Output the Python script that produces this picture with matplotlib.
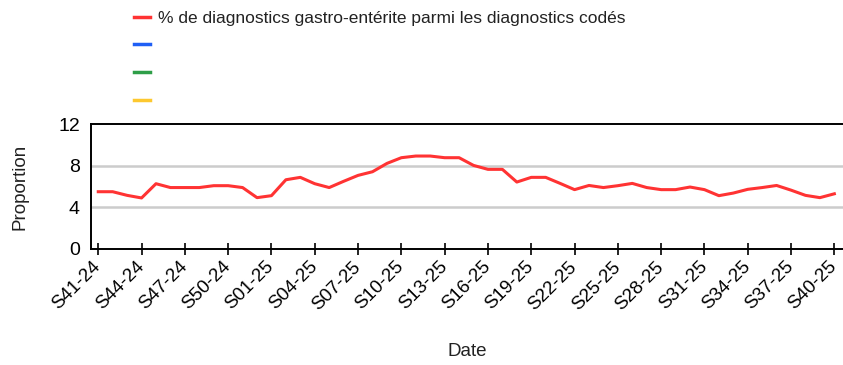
import matplotlib
matplotlib.use("Agg")
import matplotlib.pyplot as plt
from matplotlib.lines import Line2D

plt.rcParams['font.family'] = ['Liberation Sans', 'DejaVu Sans']

# weeks S41-24 .. S40-25
weeks = [f"S{w:02d}-24" for w in range(41, 53)] + [f"S{w:02d}-25" for w in range(1, 41)]

pct_gastro = [5.5, 5.5, 5.15, 4.9, 6.27, 5.9, 5.9, 5.9, 6.08, 6.08, 5.9, 4.93,
              5.12, 6.65, 6.88, 6.27, 5.9, 6.5, 7.07, 7.42, 8.22, 8.77, 8.93, 8.93,
              8.77, 8.77, 8.03, 7.65, 7.65, 6.43, 6.88, 6.88, 6.3, 5.7, 6.1, 5.9,
              6.08, 6.3, 5.9, 5.7, 5.7, 5.95, 5.7, 5.12, 5.37, 5.73, 5.9, 6.1,
              5.65, 5.15, 4.93, 5.3]

legend_labels = ["% de diagnostics gastro-entérite parmi les diagnostics codés", "", "", ""]
legend_colors = ["#ff3333", "#1f5ff5", "#2e9e48", "#fdc82f"]

fig = plt.figure(figsize=(8.43, 3.65), dpi=100)
ax = fig.add_axes([0.108, 0.318, 0.892, 0.342])

x = list(range(len(weeks)))
ax.plot(x, pct_gastro, color=legend_colors[0], linewidth=2.2, zorder=3)

ax.set_xlim(-0.5, 51.6)
ax.set_ylim(0, 12)
ax.set_yticks([0, 4, 8, 12])
for g in [4, 8]:
    ax.axhline(g, color="#cccccc", linewidth=1.8, zorder=1)

ax.set_xticks(x[::3])
ax.set_xticklabels(weeks[::3], rotation=45, ha="right", va="center",
                   rotation_mode="anchor", fontsize=13.5)
ax.tick_params(axis="x", direction="inout", length=8, width=1.2, pad=7)
ax.tick_params(axis="y", length=0, pad=8, labelsize=14)

for side in ["left", "top", "bottom"]:
    ax.spines[side].set_linewidth(1.4)
    ax.spines[side].set_color("black")
ax.spines["right"].set_visible(False)

ax.set_xlabel("Date", fontsize=13.5, color="#222222")
ax.set_ylabel("Proportion", fontsize=13.5, color="#222222")
ax.xaxis.label.set_va("center")
ax.yaxis.label.set_va("center")
ax.xaxis.set_label_coords(0.5, -0.824)
ax.yaxis.set_label_coords(-0.094, 0.5)

handles = [Line2D([], [], color=c, linewidth=2.5) for c in legend_colors]
fig.legend(handles, legend_labels, loc="upper left", bbox_to_anchor=(0.140, 1.014),
           frameon=False, fontsize=12.5, handlelength=0.95, handletextpad=0.45,
           labelspacing=0.72, labelcolor="#222222")

fig.savefig("out.png", dpi=100)
